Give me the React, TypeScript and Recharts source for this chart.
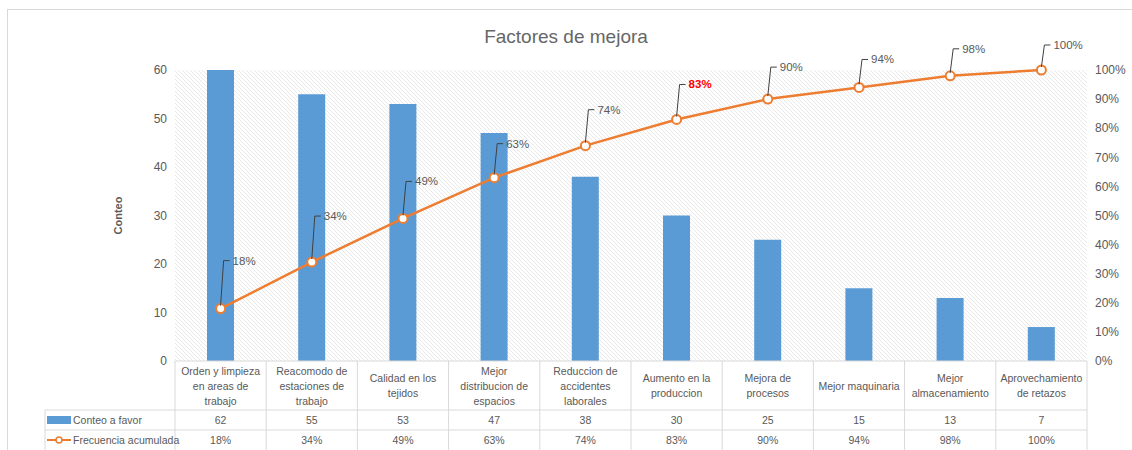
import React from 'react';
import {
  ComposedChart, Bar, Line, XAxis, YAxis, CartesianGrid, LabelList
} from 'recharts';

const categories = [
  'Orden y limpieza en areas de trabajo',
  'Reacomodo de estaciones de trabajo',
  'Calidad en los tejidos',
  'Mejor distribucion de espacios',
  'Reduccion de accidentes laborales',
  'Aumento en la produccion',
  'Mejora de procesos',
  'Mejor maquinaria',
  'Mejor almacenamiento',
  'Aprovechamiento de retazos',
];
const conteo = [62, 55, 53, 47, 38, 30, 25, 15, 13, 7];
const acumulada = [18, 34, 49, 63, 74, 83, 90, 94, 98, 100];
const countTicks = [0, 10, 20, 30, 40, 50, 60];
const pctTicks = [0, 10, 20, 30, 40, 50, 60, 70, 80, 90, 100];
const highlightIndex = 5;

// label leader heights (style only)
const labelLift = [48, 46, 37, 34, 36, 35, 32, 28, 27, 25];

const data = categories.map((name, i) => ({ name, conteo: conteo[i], acumulada: acumulada[i] }));

const W = 1132;
const H = 450;
const PLOT_LEFT = 175;
const PLOT_RIGHT = 1087;
const PLOT_TOP = 70;
const PLOT_BOTTOM = 361;
const CELL_W = (PLOT_RIGHT - PLOT_LEFT) / categories.length;
const TABLE_LEFT = 45;
const ROW1 = 410;
const ROW2 = 430;
const FONT = '"Liberation Sans", Arial, sans-serif';
const TEXT = '#595959';
const GRID = '#D9D9D9';
const BLUE = '#5B9BD5';
const ORANGE = '#ED7D31';

const wrap = (s: string, max = 16) => {
  const lines: string[] = [];
  let cur = '';
  s.split(' ').forEach((w) => {
    if (!cur) cur = w;
    else if ((cur + ' ' + w).length <= max) cur += ' ' + w;
    else { lines.push(cur); cur = w; }
  });
  if (cur) lines.push(cur);
  return lines;
};

const TableTick = (props: any) => {
  const { x, payload, index } = props;
  const lines = wrap(payload.value);
  const mid = (PLOT_BOTTOM + ROW1) / 2 + 4;
  const startY = mid - ((lines.length - 1) * 15) / 2;
  const left = x - CELL_W / 2;
  const right = x + CELL_W / 2;
  return (
    <g fontFamily={FONT} fontSize={10.5} fill={TEXT}>
      {index === 0 && (
        <g>
          <line x1={left} y1={PLOT_BOTTOM} x2={left} y2={H} stroke={GRID} />
          <line x1={TABLE_LEFT} y1={ROW1} x2={left} y2={ROW1} stroke={GRID} />
          <line x1={TABLE_LEFT} y1={ROW2} x2={left} y2={ROW2} stroke={GRID} />
          <line x1={TABLE_LEFT} y1={ROW1} x2={TABLE_LEFT} y2={H} stroke={GRID} />
          <rect x={TABLE_LEFT + 2} y={ROW1 + 6} width={24} height={8} fill={BLUE} />
          <text x={TABLE_LEFT + 28} y={ROW1 + 14}>Conteo a favor</text>
          <line x1={TABLE_LEFT + 2} y1={ROW2 + 10} x2={TABLE_LEFT + 26} y2={ROW2 + 10} stroke={ORANGE} strokeWidth={2} />
          <circle cx={TABLE_LEFT + 14} cy={ROW2 + 10} r={3} fill="#fff" stroke={ORANGE} strokeWidth={1.5} />
          <text x={TABLE_LEFT + 28} y={ROW2 + 14}>Frecuencia acumulada</text>
        </g>
      )}
      <line x1={right} y1={PLOT_BOTTOM} x2={right} y2={H} stroke={GRID} />
      <line x1={left} y1={ROW1} x2={right} y2={ROW1} stroke={GRID} />
      <line x1={left} y1={ROW2} x2={right} y2={ROW2} stroke={GRID} />
      {lines.map((l, i) => (
        <text key={i} x={x} y={startY + i * 15} textAnchor="middle">{l}</text>
      ))}
      <text x={x} y={ROW1 + 14} textAnchor="middle">{conteo[index]}</text>
      <text x={x} y={ROW2 + 14} textAnchor="middle">{acumulada[index]}%</text>
    </g>
  );
};

const PctLabel = (props: any) => {
  const { x, y, value, index } = props;
  const lift = labelLift[index] ?? 30;
  const top = y - lift;
  const hot = index === highlightIndex;
  return (
    <g>
      <polyline
        points={`${x},${y - 3} ${x + 3},${top} ${x + 9},${top}`}
        fill="none"
        stroke="#404040"
        strokeWidth={1}
      />
      <text
        x={x + 12}
        y={top + 4}
        fontFamily={FONT}
        fontSize={11.5}
        fill={hot ? '#FF0000' : TEXT}
        fontWeight={hot ? 700 : 400}
      >
        {value}%
      </text>
    </g>
  );
};

const App = () => {
  return (
    <div style={{ position: 'absolute', left: 0, top: 0, width: W, height: H, background: '#fff', overflow: 'hidden' }}>
      <div style={{ position: 'absolute', left: 7, top: 9, width: W, height: H, border: `1px solid ${GRID}` }} />
      <div
        style={{
          position: 'absolute', left: 0, top: 26, width: W, textAlign: 'center',
          fontFamily: FONT, fontSize: 19, color: '#666',
        }}
      >
        Factores de mejora
      </div>
      <div style={{ position: 'absolute', left: 0, top: 0 }}>
        <ComposedChart
          width={W}
          height={H}
          data={data}
          margin={{ top: PLOT_TOP, right: 0, left: 0, bottom: 0 }}
        >
          <defs>
            <pattern id="hatch" patternUnits="userSpaceOnUse" width={4} height={4}>
              <path d="M0,0 L4,4 M-1,3 L1,5 M3,-1 L5,1" stroke="#E0E0E0" strokeWidth={0.7} />
            </pattern>
          </defs>
          <CartesianGrid fill="url(#hatch)" horizontal={false} vertical={false} />
          <XAxis
            dataKey="name"
            height={H - PLOT_BOTTOM}
            interval={0}
            tickLine={false}
            axisLine={{ stroke: GRID }}
            tick={<TableTick />}
          />
          <YAxis
            yAxisId="left"
            width={PLOT_LEFT}
            domain={[0, 60]}
            ticks={countTicks}
            allowDataOverflow
            axisLine={false}
            tickLine={false}
            tick={{ fill: TEXT, fontSize: 12, fontFamily: FONT }}
            label={(p: any) => {
              const vb = p.viewBox || { y: PLOT_TOP, height: PLOT_BOTTOM - PLOT_TOP };
              const cy = vb.y + vb.height / 2;
              return (
                <text
                  x={122}
                  y={cy}
                  transform={`rotate(-90 122 ${cy})`}
                  textAnchor="middle"
                  fontFamily={FONT}
                  fontSize={11}
                  fontWeight={700}
                  fill={TEXT}
                >
                  Conteo
                </text>
              );
            }}
          />
          <YAxis
            yAxisId="right"
            orientation="right"
            width={W - PLOT_RIGHT}
            domain={[0, 100]}
            ticks={pctTicks}
            axisLine={false}
            tickLine={false}
            tickFormatter={(v) => `${v}%`}
            tick={{ fill: TEXT, fontSize: 12, fontFamily: FONT, textAnchor: 'start' }}
          />
          <Bar yAxisId="left" dataKey="conteo" fill={BLUE} barSize={27} isAnimationActive={false} />
          <Line
            yAxisId="right"
            dataKey="acumulada"
            stroke={ORANGE}
            strokeWidth={2.5}
            dot={{ r: 4.5, fill: '#fff', stroke: ORANGE, strokeWidth: 2 }}
            activeDot={false}
            isAnimationActive={false}
          >
            <LabelList dataKey="acumulada" content={<PctLabel />} />
          </Line>
        </ComposedChart>
      </div>
    </div>
  );
};

export default App;
